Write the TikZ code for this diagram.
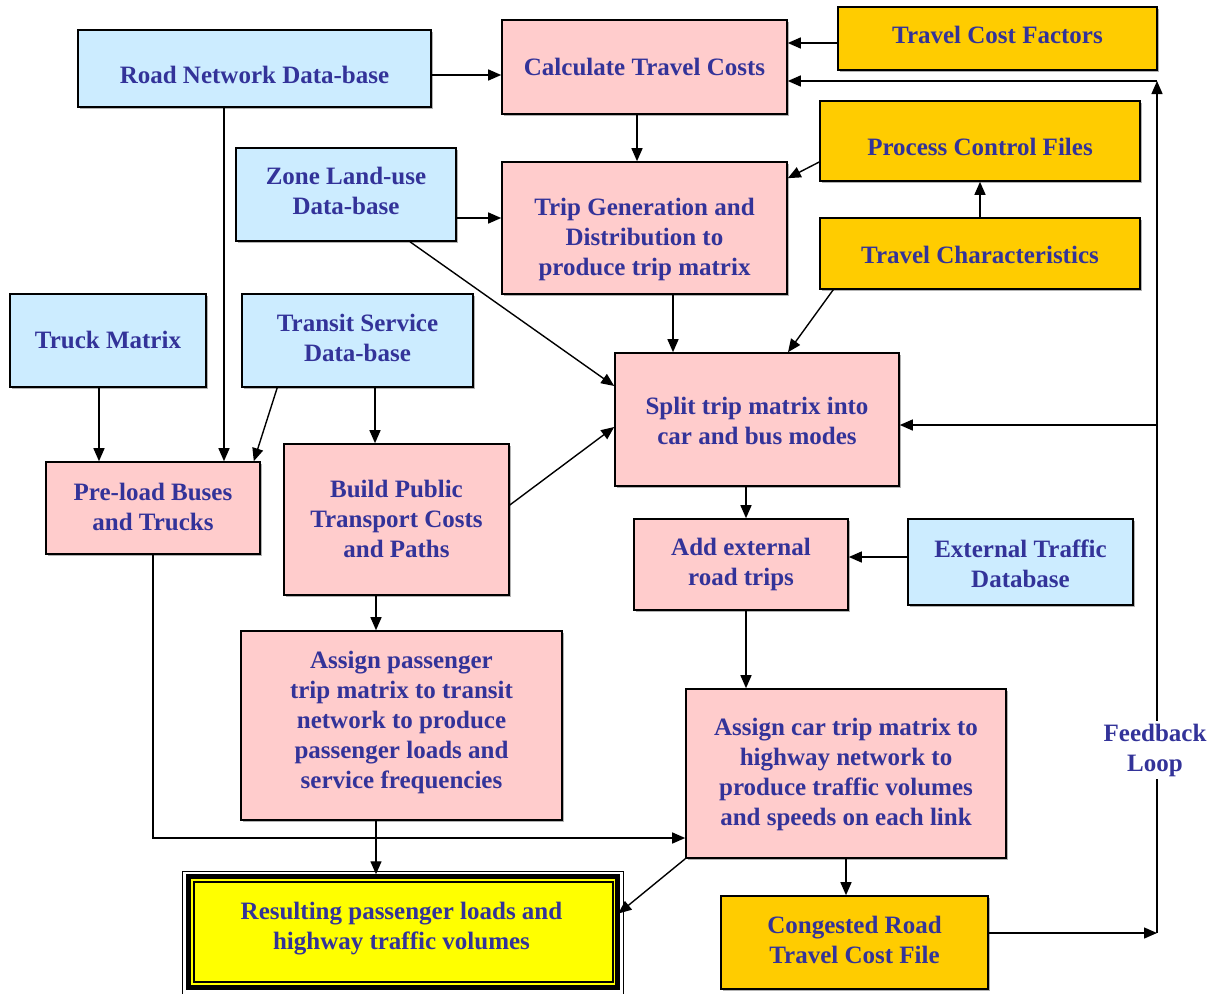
\documentclass[tikz,border=0pt]{standalone}
\usepackage{fontspec}
\setmainfont{Liberation Serif}
\usetikzlibrary{arrows.meta,shadows}
\definecolor{txt}{HTML}{333399}
\definecolor{blu}{HTML}{CCECFF}
\definecolor{pnk}{HTML}{FFCCCC}
\definecolor{org}{HTML}{FFCC00}
\definecolor{yel}{HTML}{FFFF00}
\tikzset{
  box/.style={draw=black, line width=1.6pt, inner sep=0pt,
    drop shadow={shadow xshift=1.5pt, shadow yshift=-1.5pt, fill=black, opacity=0.3}},
  bluebox/.style={box, fill=blu},
  pinkbox/.style={box, fill=pnk},
  orangebox/.style={box, fill=org},
  tx/.style={text=txt, font=\fontsize{25}{30}\selectfont\bfseries, align=center, inner sep=0pt, yshift=-2pt},
  arr/.style={line width=1.4pt, -{Triangle[length=13pt,width=11pt]}},
  lbl/.style={tx, fill=white, inner sep=3pt}
}
\begin{document}
\begin{tikzpicture}[x=1pt,y=-1pt]
\useasboundingbox (0,0) rectangle (1217,993);
% boxes
\node[bluebox, minimum width=353pt, minimum height=77pt] (road) at (254.5,68.5) {};
\node[tx] (roadt) at (254.5,73) {Road Network Data-base};
\node[pinkbox, minimum width=285pt, minimum height=94pt] (calc) at (644.5,67) {};
\node[tx] (calct) at (644.5,65) {Calculate Travel Costs};
\node[orangebox, minimum width=319pt, minimum height=63pt] (tcf) at (997.5,38.5) {};
\node[tx] (tcft) at (997.5,33) {Travel Cost Factors};
\node[orangebox, minimum width=320pt, minimum height=80pt] (pcf) at (980,141) {};
\node[tx] (pcft) at (980,145) {Process Control Files};
\node[bluebox, minimum width=220pt, minimum height=93pt] (zone) at (346,194.5) {};
\node[tx] (zonet) at (346,189) {Zone Land-use\\Data-base};
\node[pinkbox, minimum width=285pt, minimum height=132pt] (tripgen) at (644.5,228) {};
\node[tx] (tripgent) at (644.5,237) {Trip Generation and\\Distribution to\\produce trip matrix};
\node[orangebox, minimum width=320pt, minimum height=71pt] (tchar) at (980,253.5) {};
\node[tx] (tchart) at (980,253) {Travel Characteristics};
\node[bluebox, minimum width=196pt, minimum height=93pt] (truck) at (108,340.5) {};
\node[tx] (truckt) at (108,338) {Truck Matrix};
\node[bluebox, minimum width=231pt, minimum height=93pt] (transit) at (357.5,340.5) {};
\node[tx] (transitt) at (357.5,336) {Transit Service\\Data-base};
\node[pinkbox, minimum width=284pt, minimum height=133pt] (split) at (757,419.5) {};
\node[tx] (splitt) at (757,419) {Split trip matrix into\\car and bus modes};
\node[pinkbox, minimum width=214pt, minimum height=92pt] (preload) at (153,508) {};
\node[tx] (preloadt) at (153,505) {Pre-load Buses\\and Trucks};
\node[pinkbox, minimum width=225pt, minimum height=151pt] (build) at (396.5,519.5) {};
\node[tx] (buildt) at (396.5,517) {Build Public\\Transport Costs\\and Paths};
\node[pinkbox, minimum width=214pt, minimum height=91pt] (addext) at (741,564.5) {};
\node[tx] (addextt) at (741,562) {Add external\\road trips};
\node[bluebox, minimum width=225pt, minimum height=86pt] (exttraf) at (1020.5,562) {};
\node[tx] (exttraft) at (1020.5,561.5) {External Traffic\\Database};
\node[pinkbox, minimum width=321pt, minimum height=189pt] (asgpass) at (401.5,725.5) {};
\node[tx] (asgpasst) at (401.5,720) {Assign passenger\\trip matrix to transit\\network to produce\\passenger loads and\\service frequencies};
\node[pinkbox, minimum width=320pt, minimum height=169pt] (asgcar) at (846,773.5) {};
\node[tx] (asgcart) at (846,772) {Assign car trip matrix to\\highway network to\\produce traffic volumes\\and speeds on each link};
\node[orangebox, minimum width=267pt, minimum height=93pt] (congest) at (854.5,942.5) {};
\node[tx] (congestt) at (854.5,938) {Congested Road\\Travel Cost File};
% result box with triple frame
\node[draw=black, line width=0.8pt, minimum width=441pt, minimum height=123pt] (resout) at (402.5,932.5) {};
\node[draw=black, fill=yel, line width=4.5pt, minimum width=429pt, minimum height=111pt] (resmid) at (403,932) {};
\node[draw=black, fill=yel, line width=1.2pt, minimum width=419pt, minimum height=100pt] (result) at (403.5,932) {};
\node[tx] (resultt) at (401.5,927) {Resulting passenger loads and\\highway traffic volumes};
% feedback coordinates
\coordinate (fbb) at (1157,933);
\coordinate (fbt) at (1157,81);
\coordinate (fbm) at (1157,425);
% connectors
\draw[arr] ([yshift=-6.5pt]road.east) -- ([yshift=-6.5pt]road.east -| calc.west);
\draw[arr] ([yshift=-4.5pt]tcf.west) -- ([yshift=-4.5pt]tcf.west -| calc.east);
\draw[arr] ([xshift=-7.5pt]calc.south) -- ([xshift=-7.5pt]calc.south |- tripgen.north);
\draw[arr] ([yshift=-21pt]pcf.west) -- ([yshift=-17pt]tripgen.north east);
\draw[arr] (tchar.north) -- (pcf.south);
\draw[arr] ([xshift=14pt]tchar.south west) -- ([xshift=31pt]split.north);
\draw[arr] ([yshift=-23.5pt]zone.east) -- ([yshift=-23.5pt]zone.east -| tripgen.west);
\draw[arr] ([xshift=64pt]zone.south) -- ([yshift=33.5pt]split.west);
\draw[arr] ([xshift=28.5pt]tripgen.south) -- ([xshift=28.5pt]tripgen.south |- split.north);
\draw[arr] ([xshift=17.5pt]transit.south) -- ([xshift=17.5pt]transit.south |- build.north);
\draw[arr] ([xshift=36pt]transit.south west) -- ([xshift=-7pt]preload.north east);
\draw[arr] ([xshift=-30.5pt]road.south) -- ([xshift=-30.5pt]road.south |- preload.north);
\draw[arr] ([xshift=-9pt]truck.south) -- ([xshift=-9pt]truck.south |- preload.north);
\draw[arr] ([yshift=14.5pt]build.east) -- ([yshift=-7.5pt]split.west);
\draw[arr] ([xshift=-11pt]split.south) -- ([xshift=-11pt]split.south |- addext.north);
\draw[arr] ([yshift=5pt]exttraf.west) -- ([yshift=5pt]exttraf.west -| addext.east);
\draw[arr] ([xshift=5pt]addext.south) -- ([xshift=5pt]addext.south |- asgcar.north);
\draw[arr] ([xshift=-20.5pt]build.south) -- ([xshift=-20.5pt]build.south |- asgpass.north);
\draw[arr] ([xshift=-25.5pt]asgpass.south) -- ([xshift=-25.5pt]asgpass.south |- resmid.north);
\draw[arr] (preload.south) |- ([yshift=-64.5pt]asgcar.west);
\draw[arr] (asgcar.south west) -- ([xshift=-5pt,yshift=19pt]resout.east);
\draw[arr] (asgcar.south) -- (asgcar.south |- congest.north);
\draw[arr] ([yshift=9.5pt]congest.east) -- (fbb);
\draw[arr] (fbb) -- (fbt);
\draw[arr] (fbt) -- (fbt -| calc.east);
\draw[arr] (fbm) -- (fbm -| split.east);
\node[lbl] (fblabel) at (1155,748) {Feedback\\Loop};
\end{tikzpicture}
\end{document}
